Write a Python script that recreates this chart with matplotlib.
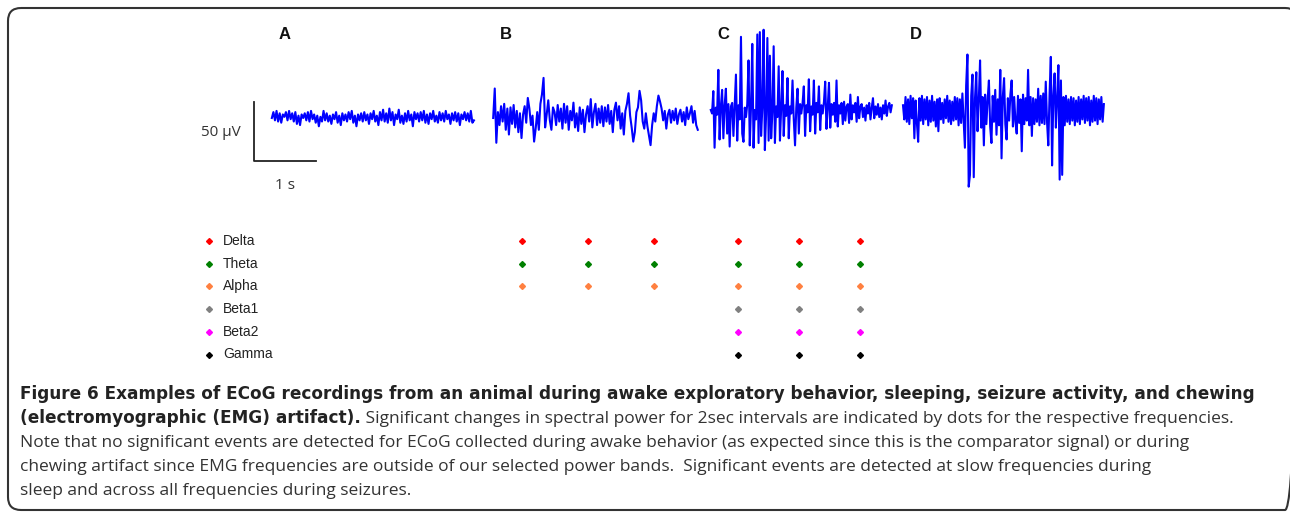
import numpy as np
import matplotlib
matplotlib.use('Agg')
import matplotlib.pyplot as plt
from matplotlib.patches import FancyBboxPatch

plt.rcParams['font.family'] = ['Open Sans', 'DejaVu Sans']

awake_uv = [0, 5, -2, 6, -3, 4, -4, 3, 1, 5, -2, 6, -1, 4, -3, 5, -5, 2, -6, 3,
            0, 4, -2, 5, -3, 6, -1, 3, -4, 2, -7, 1, -3, 6, -2, 4, -3, 2, -5, 3,
            -1, 5, -4, 2, -6, 4, -2, 3, -3, 5, -1, 6, -4, 2, -7, 3, -2, 4, -3, 5,
            -2, 3, -5, 4, -1, 6, -3, 2, -6, 5, -2, 7, -3, 4, -4, 8, -2, 5, -6, 3,
            -1, 7, -4, 2, -5, 4, -3, 6, -2, 3, -7, 5, -1, 4, -3, 5, -2, 6, -4, 3,
            -5, 4, -1, 6, -3, 2, -4, 5, -2, 4, -3, 6, -1, 3, -5, 4, -2, 5, -3, 4,
            -6, 3, -1, 5, -2, 4, -3, 6, -4, -2]
sleep_uv = [0, 25, -21, 5, -6, 10, -3, 12, -10, 8, -14, 9, -5, 11, -8, 6, -12, 4, -17,
            3, 10, -4, 17, 8, -6, 2, -20, -9, 5, -10, 12, 20, 34, -8, 3, 15, -2, -10, 9,
            5, -6, 11, -3, 8, -9, 12, -4, 10, -10, 6, -2, 13, -8, 4, -11, 9,
            -5, 7, -12, 3, 10, -3, 16, -8, 5, 12, -6, 8, -4, 10, -7,
            9, -3, 11, -5, 6, -12, 7, 13, -2, 10, -9, 4, -14, 6,
            12, 21, 2, -8, -20, -12, 5, 9, 23, 15, -3, -9, 4,
            -7, -15, -23, -6, 4, -3, 10, 19, 14, 8, -2, 6, -9, 3, 7,
            -4, 6, -2, 8, -5, 3, 7, -3, 5, -6, 9, -1, 4, 10, -4, 6, -6, -10]
seizure_uv = [0, -3, 16, -32, 2, -4, 34, -25, 3, 17, -24, 4, 18, -20, 5, -31, 3, 6, -22, 5,
              30, -26, 4, -8, 62, -20, -27, 2, -6, 5, 42, -30, 3, 56, -32, 0, -8, 64, -28, 66,
              -22, 2, 68, -34, -4, 61, -26, 46, -24, -2, 54, -28, 3, -6, 37, -26, 2, 33, -22, 4,
              -5, 27, -24, 3, -3, 25, -8, -30, 2, 18, -20, 5, -3, 6, 20, -22, 4, -2, 26, -18,
              3, -4, 25, -20, 6, -2, 20, -17, 4, -3, 7, 24, -16, 2, 23, -15, 5, -4, 6, -10,
              25, -14, 4, -3, 6, -12, 7, -9, 3, 5, -11, 13, -8, 4, -2, 6, -10, 11, -7, 3,
              5, -6, 2, -9, 4, -3, 6, -8, 2, 10, -7, 3, -4, 5, -6, 2, -8, 4, -3, 8,
              -5, 3, 6, -2, 4]
chewing_uv = [4, -8, 11, -10, 9, -12, 12, -7, 10, -24, 8, -11, -27, 10, -9, 12, -12, 9, -8, 11,
              -13, 8, -10, 12, -9, 7, -14, 9, -18, 10, -8, 6, -11, 9, -7, 12, -10, 8, -12, 7,
              -9, 11, -8, 10, -13, 9, -11, 14, -10, -32, 21, 47, -65, -55, 12, 30, -57, 10, 32, -18,
              8, 42, -15, 11, -30, 13, -12, 9, 25, -14, -28, 12, -10, 17, -21, 9, -13, 34, -41, 11,
              27, -12, -25, 10, -9, 13, 25, -14, 11, -10, -20, 12, -11, 9, -35, 13, -12, 10, -9, 34,
              -13, 11, -22, 10, -12, 9, -10, 18, -13, 12, -11, 14, -12, 24, -10, -30, 13, 45, -47, 12,
              31, -15, 10, 38, -59, 25, -55, 11, -13, 12, -10, 9, -12, 11, -9, 10, -13, 8, -10, 11,
              -12, 9, -8, 12, -11, 10, -9, 11, -13, 8, -10, 12, -9, 10, -12, 9, -8, 11, -10, 5]
traces = [awake_uv, sleep_uv, seizure_uv, chewing_uv]
trace_dur_s = [3.26, 3.30, 2.92, 3.24]
panel_labels = ['A', 'B', 'C', 'D']

bands = ['Delta', 'Theta', 'Alpha', 'Beta1', 'Beta2', 'Gamma']
band_colors = ['#ff0000', '#008000', '#ff8040', '#808080', '#ff00ff', '#000000']
# significant events (time within trace, s) and the bands they hit
sleep_event_t = [0.47, 1.53, 2.60]
sleep_event_bands = ['Delta', 'Theta', 'Alpha']
seizure_event_t = [0.44, 1.42, 2.40]
seizure_event_bands = bands

caption_bold_1 = ('Figure 6 Examples of ECoG recordings from an animal during awake '
                  'exploratory behavior, sleeping, seizure activity, and chewing')
caption_bold_2 = '(electromyographic (EMG) artifact).'
caption_rest = [' Significant changes in spectral power for 2sec intervals are indicated by dots for the respective frequencies.',
                'Note that no significant events are detected for ECoG collected during awake behavior '
                '(as expected since this is the comparator signal) or during',
                'chewing artifact since EMG frequencies are outside of our selected power bands.  '
                'Significant events are detected at slow frequencies during',
                'sleep and across all frequencies during seizures.']

# layout (pixels)
W, H = 1290, 514
px_per_s = 62.0
px_per_uv = 1.18
onsets = [1.32, 4.89, 8.40, 11.50]
baselines = [0, 0, 6.8, 6.8]

fig = plt.figure(figsize=(W / 100, H / 100), dpi=100)


def px_axes(x0, y0, x1, y1, **kw):
    return fig.add_axes([x0 / W, 1 - y1 / H, (x1 - x0) / W, (y1 - y0) / H], **kw)


# frame + caption
bg = px_axes(0, 0, W, H, zorder=-1)
bg.set_xlim(0, W)
bg.set_ylim(H, 0)
bg.axis('off')
bg.add_patch(FancyBboxPatch((8, 8), 1290, 502, boxstyle='round,pad=0,rounding_size=13',
                            fill=False, ec='#333333', lw=1.5, clip_on=False))

bold_kw = dict(fontweight='bold', family='DejaVu Sans', color='#222222')
t1 = bg.text(20, 399, caption_bold_1, fontsize=11.5, **bold_kw)
t2 = bg.text(20, 423, caption_bold_2, fontsize=11.5, **bold_kw)
t_reg = [bg.text(20, 447 + 24 * i, line, fontsize=12.1, color='#333333')
         for i, line in enumerate(caption_rest[1:])]

# fit caption font sizes to the line widths of the original
r = fig.canvas.get_renderer()
w_b = t1.get_window_extent(r).width
t1.set_fontsize(11.5 * 1243 / w_b)
t2.set_fontsize(11.5 * 1243 / w_b)
reg_size = 12.1 * 1165 / t_reg[0].get_window_extent(r).width
for t in t_reg:
    t.set_fontsize(reg_size)
x_end = t2.get_window_extent(r).x1
bg.text(x_end, 423, caption_rest[0], fontsize=reg_size, color='#333333')

# traces
ax = px_axes(190, 20, 1110, 200)
ax.set_xlim(0, 920 / px_per_s)
ax.set_ylim(-(200 - 118) / px_per_uv, (118 - 20) / px_per_uv)
ax.axis('off')

for sig, t0, dur, base, lab in zip(traces, onsets, trace_dur_s, baselines, panel_labels):
    y = np.array(sig, dtype=float) + base
    t = t0 + np.linspace(0, dur, len(y))
    ax.plot(t, y, color='#0000ff', lw=1.5)
    ax.text(t0 + 0.20, 71, lab, ha='center', va='center', fontsize=12,
            fontweight='bold', family='Liberation Sans', color='#111111')

# scale bar: 50 uV, 1 s
sb_x, sb_y = 1.03, -36.4
ax.plot([sb_x, sb_x, sb_x + 1], [sb_y + 50, sb_y, sb_y], color='#222222', lw=1.3)
ax.text(sb_x - 0.21, sb_y + 24.5, '50 µV', ha='right', va='center', fontsize=11, color='#333333')
ax.text(sb_x + 0.5, sb_y - 20.4, '1 s', ha='center', va='center', fontsize=11, color='#333333')

# band legend + significant event dots
ax2 = px_axes(190, 229.65, 1110, 365.85)
ax2.set_xlim(0, 920 / px_per_s)
ax2.set_ylim(5.5, -0.5)
ax2.axis('off')

for i, (b, c) in enumerate(zip(bands, band_colors)):
    ax2.plot(0.31, i, 'D', color=c, ms=3)
    ax2.text(0.53, i, b, va='center', fontsize=10, family='Liberation Sans', color='#222222')

for t0, ev_t, ev_b in [(onsets[1], sleep_event_t, sleep_event_bands),
                       (onsets[2], seizure_event_t, seizure_event_bands)]:
    for t in ev_t:
        for b in ev_b:
            k = bands.index(b)
            ax2.plot(t0 + t, k, 'D', color=band_colors[k], ms=3)

fig.savefig('out.png', dpi=100)
